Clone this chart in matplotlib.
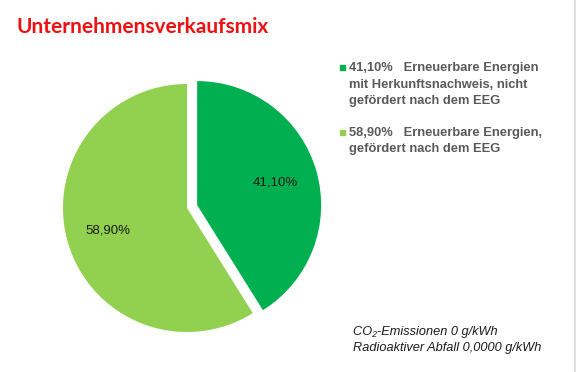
import matplotlib
matplotlib.use('Agg')
import matplotlib.pyplot as plt

shares = [41.10, 58.90]
labels = ['41,10%', '58,90%']
legend_texts = ['41,10%   Erneuerbare Energien\nmit Herkunftsnachweis, nicht\ngefördert nach dem EEG',
                '58,90%   Erneuerbare Energien,\ngefördert nach dem EEG']
colors = ['#00B050', '#92D050']
title = 'Unternehmensverkaufsmix'
notes = ['CO\u2082-Emissionen 0 g/kWh', 'Radioaktiver Abfall 0,0000 g/kWh']

fig = plt.figure(figsize=(5.77, 3.72), dpi=100)
W, H = 577, 372

# pie: radius 124 px, centre (187, 208)
r, cx, cy = 124, 187, 208
ax = fig.add_axes([(cx - r) / W, 1 - (cy + r) / H, 2 * r / W, 2 * r / H])
wedges, texts = ax.pie(shares, colors=colors, startangle=90, counterclock=False,
                       explode=[0.085, 0], labels=labels, labeldistance=0.66,
                       textprops={'fontsize': 9.5, 'color': '#1a1a1a',
                                  'family': 'Liberation Sans'})
for t in texts:
    t.set_ha('center')
ax.set_xlim(-1, 1)
ax.set_ylim(-1, 1)
ax.set_aspect('auto')
ax.axis('off')

fig.text(17 / W, 1 - 27 / H, title, color='#EE1111', fontsize=15,
         fontweight='bold', family='Lato', va='center', ha='left')

# legend
ys = [68, 133]
for txt, col, y in zip(legend_texts, colors, ys):
    fig.patches.append(plt.Rectangle((340 / W, 1 - (y + 2) / H), 5 / W, 5 / H,
                                     transform=fig.transFigure, color=col))
    fig.text(349 / W, 1 - (y - 6) / H, txt, color='#595959', fontsize=9.3,
             fontweight='bold', family='Liberation Sans', va='top', ha='left',
             linespacing=1.5)

for i, n in enumerate(notes):
    fig.text(353 / W, 1 - (332 + 16 * i) / H, n, fontsize=9.2, style='italic',
             family=['Liberation Sans', 'DejaVu Sans'], color='#1a1a1a',
             va='center', ha='left')

fig.add_artist(plt.Line2D([575 / W, 575 / W], [0, 1], color='#d9d9d9', lw=1.2))

fig.savefig('out.png', dpi=100, facecolor='white')
